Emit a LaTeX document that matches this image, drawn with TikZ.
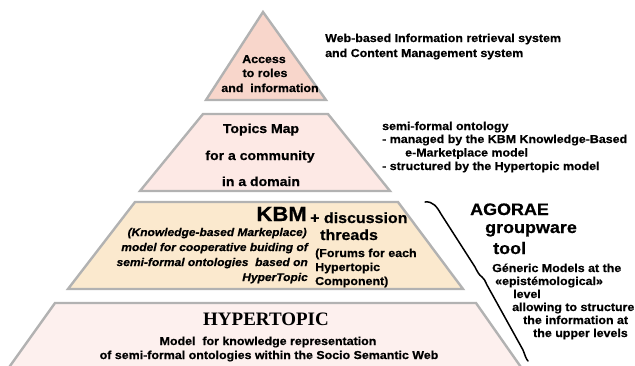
\documentclass[tikz,border=0pt]{standalone}
\usepackage{fontspec}
\setmainfont{Liberation Sans}[FakeStretch=1.08,
  BoldFont={Liberation Sans Bold},
  BoldItalicFont={Liberation Sans Bold Italic},
  BoldFeatures={FakeStretch=1.08,FakeBold=0.6},
  BoldItalicFeatures={FakeStretch=1.08,FakeBold=0.6}]
\newfontfamily\serifb{Liberation Serif}
\definecolor{edgegray}{RGB}{178,178,178}
\definecolor{apexfill}{RGB}{248,214,203}
\definecolor{topicfill}{RGB}{253,233,229}
\definecolor{kbmfill}{RGB}{251,233,206}
\definecolor{hypfill}{RGB}{253,240,238}
\begin{document}
\begin{tikzpicture}[x=1pt,y=-1pt,
  layer/.style={draw=edgegray,line width=2.4pt,line join=miter},
  txt/.style={inner sep=0pt,font=\bfseries\fontsize{11.5}{13}\selectfont},
  txtit/.style={inner sep=0pt,font=\bfseries\itshape\fontsize{11.1}{13}\selectfont},
  txtmid/.style={inner sep=0pt,font=\bfseries\fontsize{13}{15}\selectfont},
  txtbig/.style={inner sep=0pt,font=\bfseries\fontsize{14.8}{16}\selectfont},
  txthuge/.style={inner sep=0pt,font=\bfseries\fontsize{20.5}{22}\selectfont},
  txtag/.style={inner sep=0pt,font=\bfseries\fontsize{16.6}{18}\selectfont},
  txtser/.style={inner sep=0pt,font=\serifb\bfseries\fontsize{19}{21}\selectfont},
  bracecurve/.style={draw=black,line width=1.5pt,line cap=round,line join=round}]
\useasboundingbox (0,0) rectangle (635,365);
% layers
\begin{scope}
\clip (0,0) rectangle (635,365);
\draw[layer,fill=hypfill] (55,303) -- (476,303) -- (530,380) -- (0,380) -- cycle;
\end{scope}
\draw[layer,fill=kbmfill] (135,202) -- (398,202) -- (463,289) -- (68,289) -- cycle;
\draw[layer,fill=topicfill] (203,114) -- (328,114) -- (390,191) -- (140,191) -- cycle;
\draw[layer,fill=apexfill] (263,12) -- (326,100) -- (206,100) -- cycle;
% apex text
\node[txt,anchor=base] (acc1) at (264,63) {Access};
\node[txt,anchor=base] (acc2) at (265,77) {to roles};
\node[txt,anchor=base] (acc3) at (270,92) {and\ \ information};
\node[txt,anchor=base west] (web1) at (325,42) {Web-based Information retrieval system};
\node[txt,anchor=base west] (web2) at (325,57) {and Content Management system};
% topics map
\node[txtmid,anchor=base] (tm1) at (261,133) {Topics Map};
\node[txtmid,anchor=base] (tm2) at (260,160) {for a community};
\node[txtmid,anchor=base] (tm3) at (261,186) {in a domain};
\node[txt,anchor=base west] (sf1) at (382,130) {semi-formal ontology};
\node[txt,anchor=base west] (sf2) at (382,143) {- managed by the KBM Knowledge-Based};
\node[txt,anchor=base west] (sf3) at (405,156.5) {e-Marketplace model};
\node[txt,anchor=base west] (sf4) at (382,170) {- structured by the Hypertopic model};
% KBM
\node[txthuge,anchor=base east] (kbm) at (307,221) {KBM};
\node[txtbig,anchor=base west] (disc1) at (310,223) {+ discussion};
\node[txtbig,anchor=base west] (disc2) at (320,240) {threads};
\node[txt,anchor=base west] (for1) at (315,257) {(Forums for each};
\node[txt,anchor=base west] (for2) at (315,271) {Hypertopic};
\node[txt,anchor=base west] (for3) at (315,285) {Component)};
\node[txtit,anchor=base east] (kb1) at (307,236) {(Knowledge-based Markeplace)};
\node[txtit,anchor=base east] (kb2) at (308,251) {model for cooperative buiding of};
\node[txtit,anchor=base east] (kb3) at (308,266) {semi-formal ontologies\ \ based on};
\node[txtit,anchor=base east] (kb4) at (308,281) {HyperTopic};
% hypertopic
\node[txtser,anchor=base] (hyp) at (266,325) {HYPERTOPIC};
\node[txt,anchor=base] (hyp1) at (268,345) {Model\ \ for knowledge representation};
\node[txt,anchor=base] (hyp2) at (269,359) {of semi-formal ontologies within the Socio Semantic Web};
% agorae
\node[txtag,anchor=base west] (ag1) at (470,215) {AGORAE};
\node[txtag,anchor=base west] (ag2) at (485,233) {groupware};
\node[txtag,anchor=base west] (ag3) at (493,254) {tool};
\node[txt,anchor=base west] (gm1) at (492,272) {Géneric Models at the};
\node[txt,anchor=base west] (gm2) at (495,285) {«epistémological»};
\node[txt,anchor=base west] (gm3) at (513,298) {level};
\node[txt,anchor=base west] (gm4) at (512,311) {allowing to structure};
\node[txt,anchor=base west] (gm5) at (523,324) {the information at};
\node[txt,anchor=base west] (gm6) at (533,337) {the upper levels};
% brace
\draw[bracecurve] (425,202) .. controls (433,201) and (437,207) .. (441,214)
  -- (475,267) .. controls (477,271) and (479,275) .. (482,277)
  .. controls (484,278) and (485,281) .. (487,285)
  -- (523,350) .. controls (525,355) and (526,359) .. (528,361);
\end{tikzpicture}
\end{document}
